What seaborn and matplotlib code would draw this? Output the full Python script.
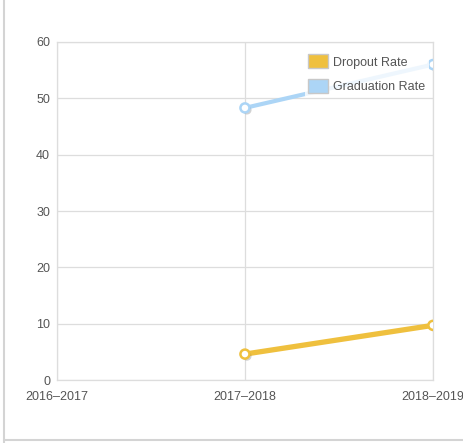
import pandas as pd
import numpy as np
import matplotlib
matplotlib.use("Agg")
import matplotlib.pyplot as plt
import matplotlib.patheffects as pe
from matplotlib.patches import Patch
from matplotlib.lines import Line2D
import seaborn as sns

# data
years = ['2016–2017', '2017–2018', '2018–2019']
dropout_rate = [np.nan, 4.6, 9.7]
graduation_rate = [np.nan, 48.3, 56.0]
y_ticks = [0, 10, 20, 30, 40, 50, 60]

colors = {'Dropout Rate': '#efc03e', 'Graduation Rate': '#acd5f6'}
widths = {'Dropout Rate': 3.8, 'Graduation Rate': 3.0}

df = pd.DataFrame({
    'year_idx': list(range(len(years))) * 2,
    'rate': dropout_rate + graduation_rate,
    'series': ['Dropout Rate'] * len(years) + ['Graduation Rate'] * len(years),
}).dropna()

sns.set_style('white')
plt.rcParams['font.family'] = ['Liberation Sans', 'DejaVu Sans']

fig = plt.figure(figsize=(4.64, 4.43), dpi=100)
ax = fig.add_axes([0.1228, 0.1422, 0.8102, 0.763])

for name in ['Graduation Rate', 'Dropout Rate']:
    sub = df[df['series'] == name]
    sns.lineplot(data=sub, x='year_idx', y='rate', ax=ax, color=colors[name],
                 lw=widths[name], marker='o', markersize=6.5,
                 markerfacecolor='white', markeredgecolor=colors[name],
                 markeredgewidth=1.8, legend=False, zorder=3,
                 path_effects=[pe.SimplePatchShadow(offset=(1.5, -1.5), alpha=0.25),
                               pe.Normal()])

ax.set_xlim(0, len(years) - 1)
ax.set_ylim(0, 60)
ax.set_xticks(range(len(years)))
ax.set_xticklabels(years)
ax.set_yticks(y_ticks)
ax.set_xlabel('')
ax.set_ylabel('')
ax.grid(True, color='#dddddd', lw=0.9)
ax.set_axisbelow(True)
for s in ax.spines.values():
    s.set_color('#dddddd')
    s.set_linewidth(0.9)
ax.tick_params(axis='both', colors='#555555', labelsize=9, length=0, pad=5)
ax.tick_params(axis='x', pad=8)

handles = [Patch(facecolor=colors[n], edgecolor='#c8c8c8', lw=1.0, label=n)
           for n in ['Dropout Rate', 'Graduation Rate']]
leg = ax.legend(handles=handles, loc='upper right', bbox_to_anchor=(1.005, 0.993),
                frameon=True, fontsize=9, handlelength=1.6, handleheight=1.35,
                handletextpad=0.35, labelspacing=0.8, labelcolor='#555555',
                borderpad=0.3, fancybox=False)
leg.get_frame().set_facecolor('white')
leg.get_frame().set_edgecolor('none')
leg.get_frame().set_alpha(0.8)
leg.set_zorder(5)

# outer page borders
fig.add_artist(Line2D([0.009, 0.009], [0.0, 1.0], color='#d4d4d4', lw=1.5))
fig.add_artist(Line2D([0.009, 1.0], [0.007, 0.007], color='#d4d4d4', lw=1.5))

fig.savefig('out.png', dpi=100)
